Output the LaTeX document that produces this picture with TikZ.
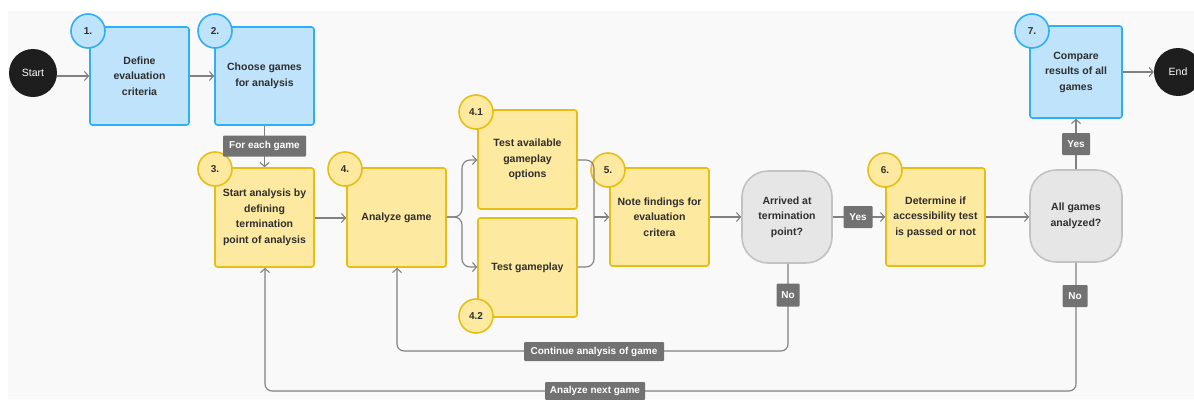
\documentclass[tikz,border=0pt]{standalone}
\usepackage{fontspec}
\setmainfont{Liberation Sans}
\usetikzlibrary{arrows.meta,positioning}
\definecolor{bg}{HTML}{F9F9F9}
\definecolor{bluefill}{HTML}{BEE3FA}
\definecolor{blueline}{HTML}{30B0F2}
\definecolor{yelfill}{HTML}{FEE9A0}
\definecolor{yelline}{HTML}{E6BE15}
\definecolor{grayfill}{HTML}{E6E6E6}
\definecolor{grayline}{HTML}{C2C2C2}
\definecolor{lblfill}{HTML}{727272}
\definecolor{linec}{HTML}{808080}
\definecolor{txt}{HTML}{2E2E2E}
\definecolor{blk}{HTML}{1E1E1E}
\tikzset{
  base/.style={rectangle, rounded corners=2.5pt, line width=1.6pt, align=center, text=txt,
    font=\fontsize{10.5}{15.5}\selectfont\bfseries, inner sep=2pt},
  bluebox/.style={base, fill=bluefill, draw=blueline, minimum width=99pt, minimum height=98pt},
  yelbox/.style={base, fill=yelfill, draw=yelline, minimum width=99pt, minimum height=99pt},
  decision/.style={base, fill=grayfill, draw=grayline, rounded corners=26pt, minimum width=90pt, minimum height=92pt},
  bnum/.style={circle, fill=bluefill, draw=blueline, line width=1.6pt, minimum size=34pt, inner sep=0pt, text=txt, font=\fontsize{10}{12}\selectfont\bfseries},
  ynum/.style={circle, fill=yelfill, draw=yelline, line width=1.6pt, minimum size=34pt, inner sep=0pt, text=txt, font=\fontsize{10}{12}\selectfont\bfseries},
  term/.style={circle, fill=blk, minimum size=48pt, inner sep=0pt, text=white, font=\fontsize{10.5}{12}\selectfont},
  lbl/.style={rectangle, rounded corners=1pt, fill=lblfill, text=white, inner sep=0pt, font=\fontsize{10}{12}\selectfont\bfseries},
  conn/.style={draw=linec, line width=1.1pt, -{Straight Barb[length=4pt,width=9pt,line width=1.1pt]}},
  plain/.style={draw=linec, line width=1.1pt},
}
\begin{document}
\begin{tikzpicture}[x=1pt,y=-1pt]
\useasboundingbox (0,0) rectangle (1194,399);
\fill[white] (0,0) rectangle (1194,399);
\fill[bg] (8,11) rectangle (1194,399);

% terminals
\node[term] (start) at (33,73) {Start};
\node[term] (end) at (1178,72) {End};

% boxes
\node[bluebox] (b1) at (139.5,76) {Define\\evaluation\\criteria};
\node[bluebox] (b2) at (264.5,76) {Choose games\\for analysis};
\node[yelbox] (b3) at (264.5,217.5) {Start analysis by\\defining\\termination\\point of analysis};
\node[yelbox] (b4) at (396.5,217.5) {Analyze game};
\node[yelbox] (b41) at (527.5,159.5) {Test available\\gameplay\\options};
\node[yelbox] (b42) at (527.5,267.5) {Test gameplay};
\node[yelbox,minimum height=98pt] (b5) at (659.5,217) {Note findings for\\evaluation\\critera};
\node[decision] (d1) at (787,217) {Arrived at\\termination\\point?};
\node[yelbox,minimum height=98pt] (b6) at (935.5,217) {Determine if\\accessibility test\\is passed or not};
\node[decision,minimum width=92pt] (d2) at (1076,216) {All games\\analyzed?};
\node[bluebox,minimum width=92pt,minimum height=92pt] (b7) at (1076,72) {Compare\\results of all\\games};

% number circles
\node[bnum] (n1) at (88,31) {1.};
\node[bnum] (n2) at (215,31) {2.};
\node[ynum] (n3) at (215,169) {3.};
\node[ynum] (n4) at (345,169) {4.};
\node[ynum] (n41) at (476,112) {4.1};
\node[ynum] (n42) at (476,316) {4.2};
\node[ynum] (n5) at (608,170) {5.};
\node[ynum] (n6) at (885,170) {6.};
\node[bnum] (n7) at (1032,31) {7.};

% simple connectors
\draw[conn] (start.east |- 0,76) -- (b1.west |- 0,76);
\draw[conn] (b1.east |- 0,76) -- (b2.west |- 0,76);
\draw[conn] (b2.south) -- (b3.north);
\draw[conn] (b3.east |- 0,218) -- (b4.west |- 0,218);
\draw[conn] (b5.east) -- (d1.west |- b5.east);
\draw[conn] (d1.east |- 0,217) -- (b6.west |- 0,217);
\draw[conn] (b6.east) -- (d2.west |- b6.east);
\draw[conn] (d2.north) -- (b7.south);
\draw[conn] (b7.east) -- (end.west |- b7.east);

% branch and merge
\coordinate (sp) at (462,217);
\coordinate (mg) at (594,217);
\draw[conn, rounded corners=8pt] (b4.east |- sp) -| (462,160) -- (b41.west |- 0,160);
\draw[conn, rounded corners=8pt] (b4.east |- sp) -| (462,267) -- (b42.west |- 0,267);
\draw[plain, rounded corners=8pt] (b41.east |- 0,160) -| (mg);
\draw[plain, rounded corners=8pt] (b42.east |- 0,267) -| (mg);
\draw[conn] (mg) -- (b5.west |- mg);

% loops
\coordinate (c1) at (788,351);
\coordinate (c2) at (397,351);
\draw[conn, rounded corners=7pt] (d1.south -| c1) -- (c1) -- (c2) -- (b4.south -| c2);
\coordinate (a1) at (1076,391);
\coordinate (a2) at (265,391);
\draw[conn, rounded corners=7pt] (d2.south) -- (a1) -- (a2) -- (b3.south -| a2);

% labels
\node[lbl, minimum width=83pt, minimum height=21pt] (lfe) at (264.5,146) {For each game};
\node[lbl, minimum width=29pt, minimum height=22pt] (ly1) at (858,217) {Yes};
\node[lbl, minimum width=23pt, minimum height=23pt] (ln1) at (788,295) {No};
\node[lbl, minimum width=28pt, minimum height=22pt] (ly2) at (1076,144) {Yes};
\node[lbl, minimum width=25pt, minimum height=22pt] (ln2) at (1075,296) {No};
\node[lbl, minimum width=140pt, minimum height=19pt] (lca) at (594,351.5) {Continue analysis of game};
\node[lbl, minimum width=100pt, minimum height=18pt] (lan) at (595,391) {Analyze next game};
\end{tikzpicture}
\end{document}
